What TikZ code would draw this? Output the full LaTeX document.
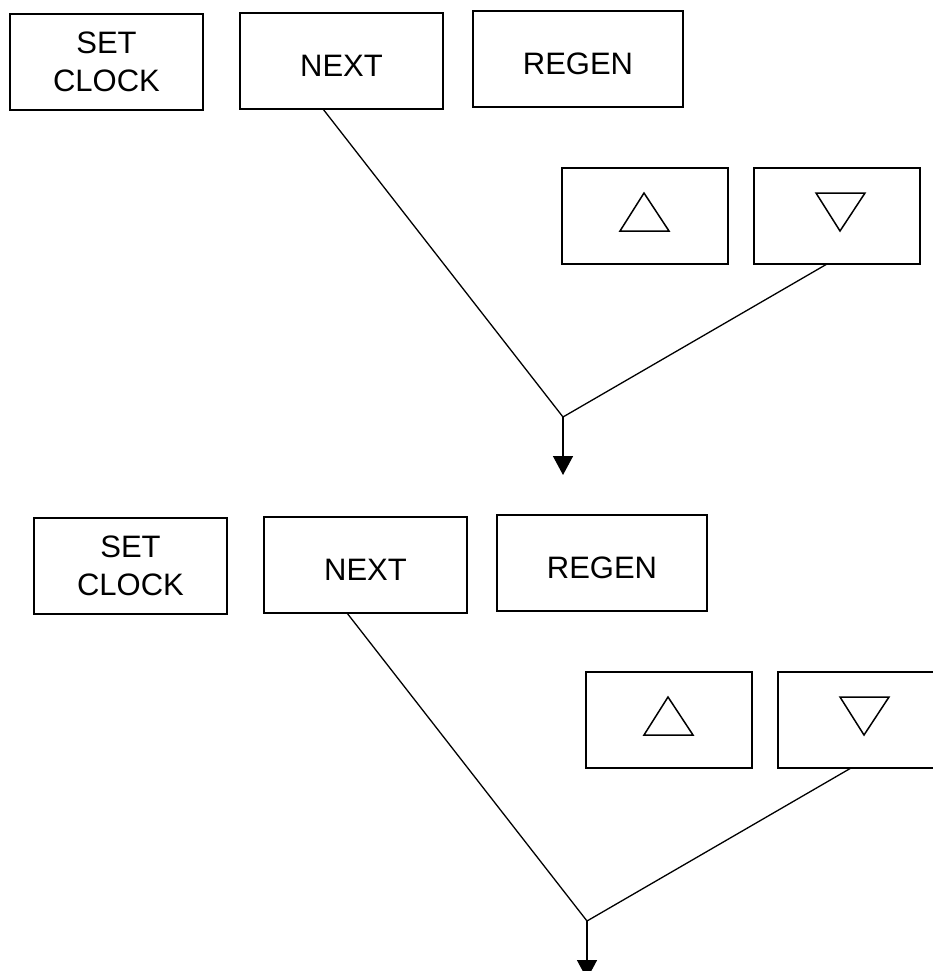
\documentclass[tikz,border=0pt]{standalone}
\usepackage{fontspec}
\setmainfont{Liberation Sans}
\usetikzlibrary{arrows.meta,calc}
\tikzset{
  keybox/.style={draw,rectangle,line width=1.5pt,inner sep=0pt,outer sep=0pt,minimum height=96pt},
  lbl/.style={inner sep=0pt,align=center,font=\fontsize{31}{38}\selectfont},
  conn/.style={line width=1.3pt},
  tri/.style={line width=1.5pt,line join=miter},
  pics/panel/.style={code={
    \node[keybox,minimum width=193pt] (set) at (106.5,62) {};
    \node[keybox,minimum width=203pt] (next) at (341.5,61) {};
    \node[keybox,minimum width=210pt] (regen) at (578,59) {};
    \node[keybox,minimum width=166pt] (up) at (645,216) {};
    \node[keybox,minimum width=166pt] (down) at (837,216) {};
    \node[lbl] (setl) at (set.center) {SET\\CLOCK};
    \node[lbl] (nextl) at ([yshift=-5pt]next.center) {NEXT};
    \node[lbl] (regenl) at ([yshift=-4.5pt]regen.center) {REGEN};
    \draw[tri,shift={(up.center)}] (-1,-23) -- (-25,15) -- (24,15) -- cycle;
    \draw[tri,shift={(down.center)}] (-21,-23) -- (28,-23) -- (3,15) -- cycle;
    \coordinate (j) at (563,417);
    \coordinate (tip) at (563,475);
    \draw[conn] ([xshift=-18.5pt]next.south) -- (j) -- ([xshift=-10pt]down.south);
    \draw[conn,line width=1.5pt,-{Triangle[width=20pt,length=19pt]}] (j) -- (tip);
  }}
}
\begin{document}
\begin{tikzpicture}[x=1pt,y=-1pt]
\useasboundingbox (0,0) rectangle (933,971);
\clip (0,0) rectangle (933,971);
\fill[white] (0,0) rectangle (933,971);
\pic (a) at (0,0) {panel};
\pic (b) at (24,504) {panel};
\end{tikzpicture}
\end{document}
